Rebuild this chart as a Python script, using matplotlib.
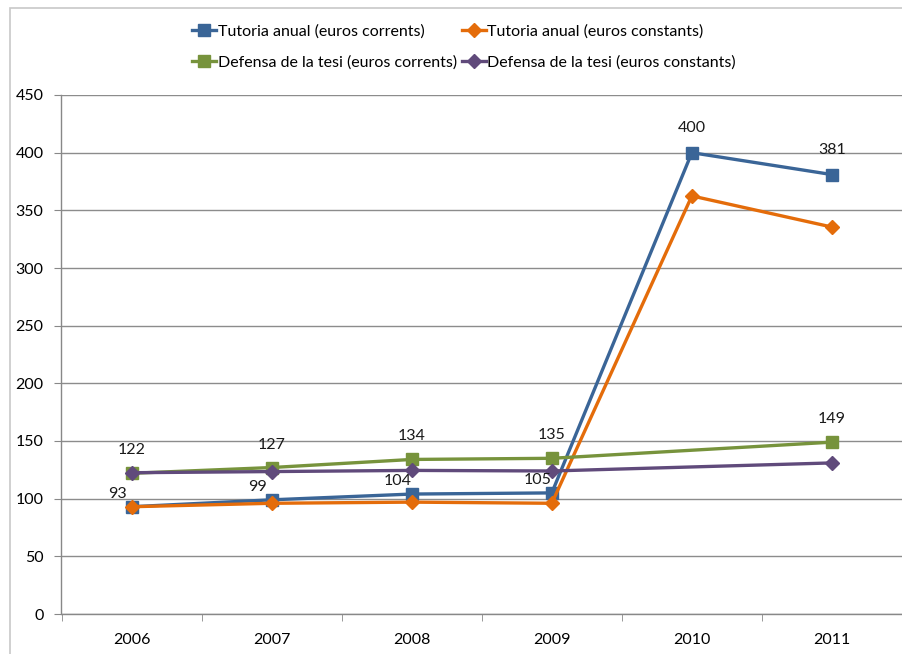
import numpy as np
import matplotlib
matplotlib.use("Agg")
import matplotlib.pyplot as plt
from matplotlib.patches import Rectangle

plt.rcParams['font.family'] = ['Lato', 'DejaVu Sans']

years = ['2006', '2007', '2008', '2009', '2010', '2011']
tutoria_corrents = [93, 99, 104, 105, 400, 381]
tutoria_constants = [93, 96, 97, 96, 362.5, 335.5]
defensa_corrents = [122, 127, 134, 135, np.nan, 149]
defensa_constants = [122.5, 123.5, 124.5, 124, np.nan, 131]

yticks = [0, 50, 100, 150, 200, 250, 300, 350, 400, 450]

fig = plt.figure(figsize=(9.03, 6.54), dpi=100)
ax = fig.add_axes([61.5/903, 1-614/654, (902-61.5)/903, (614-95)/654])

# outer chart border
fig.patches.append(Rectangle((10.5/903, -0.05), 1.1, 1-8/654+0.05, transform=fig.transFigure,
                             fill=False, edgecolor='#c8c8c8', linewidth=1.2, zorder=0))

x = np.arange(len(years))
series = [
    ('Tutoria anual (euros corrents)', tutoria_corrents, '#3A6597', 's', 8.5),
    ('Tutoria anual (euros constants)', tutoria_constants, '#E46C0A', 'D', 7),
    ('Defensa de la tesi (euros corrents)', defensa_corrents, '#77933C', 's', 8.5),
    ('Defensa de la tesi (euros constants)', defensa_constants, '#604A7B', 'D', 7),
]
handles = []
for i, (name, vals, col, mk, ms) in enumerate(series):
    v = np.array(vals, dtype=float)
    m = ~np.isnan(v)
    h, = ax.plot(x[m], v[m], color=col, lw=2.4, marker=mk, ms=ms, mec=col, mfc=col,
                 label=name, zorder=3 + i, solid_joinstyle='miter')
    handles.append(h)

# data labels
lab_fs = 11.5
for i, val in enumerate(tutoria_corrents):
    if i < 4:
        ax.annotate(f"{val:g}", (x[i], val), xytext=(-14, 13), textcoords='offset pixels',
                    ha='center', va='center', fontsize=lab_fs, color='#1a1a1a', zorder=10)
    else:
        ax.annotate(f"{val:g}", (x[i], val), xytext=(0, 25), textcoords='offset pixels',
                    ha='center', va='center', fontsize=lab_fs, color='#1a1a1a', zorder=10)
for i, val in enumerate(defensa_corrents):
    if np.isnan(val):
        continue
    ax.annotate(f"{val:g}", (x[i], val), xytext=(0, 23), textcoords='offset pixels',
                ha='center', va='center', fontsize=lab_fs, color='#1a1a1a', zorder=10)

ax.set_xlim(-0.5, 5.5)
ax.set_ylim(0, 450)
ax.set_yticks(yticks)
ax.set_xticks(x)
ax.set_xticklabels(years)
ax.set_xticks(np.arange(-0.5, 6.0, 1.0), minor=True)
ax.tick_params(axis='x', which='major', length=0, pad=14, labelsize=11.5)
ax.tick_params(axis='x', which='minor', length=5, color='#888888', direction='out')
ax.tick_params(axis='y', length=5, color='#888888', pad=8, labelsize=11.5)
ax.yaxis.grid(True, color='#8c8c8c', lw=1)
ax.set_axisbelow(True)
for s in ['top', 'right']:
    ax.spines[s].set_visible(False)
for s in ['left', 'bottom']:
    ax.spines[s].set_color('#888888')
    ax.spines[s].set_linewidth(1)

order = [0, 2, 1, 3]
leg = fig.legend([handles[i] for i in order], [series[i][0] for i in order],
                 ncol=2, loc='center', bbox_to_anchor=(464/903, 1-47/654),
                 frameon=False, fontsize=11.5, handlelength=1.5, handletextpad=0.1,
                 columnspacing=0.3, labelspacing=1.0, borderpad=0)

fig.savefig('out.png', dpi=100)
